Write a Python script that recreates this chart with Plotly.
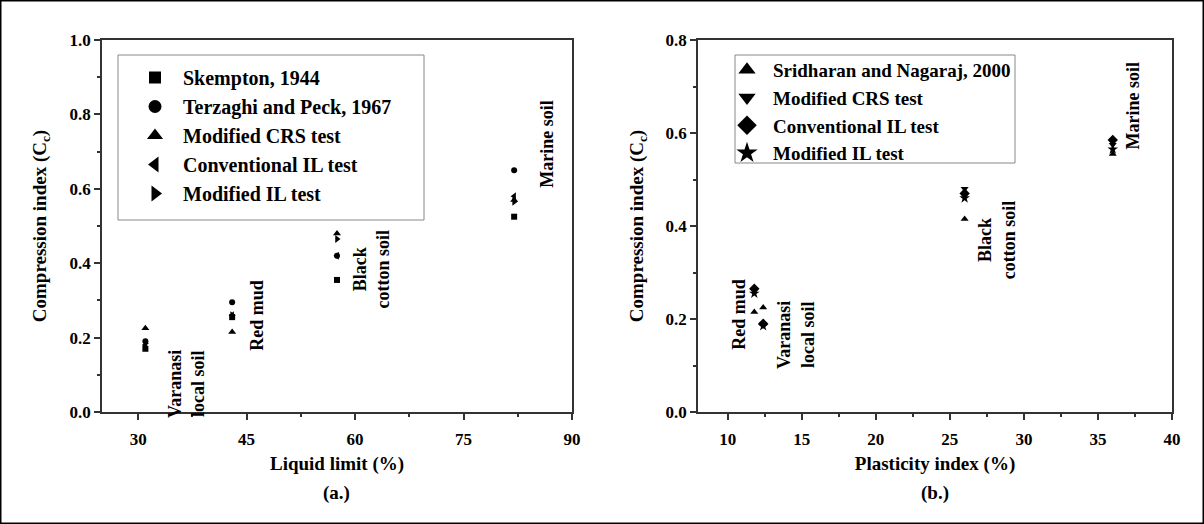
import plotly.graph_objects as go

# ---------------- data (a) ----------------
ll_x = [31, 43, 57.5, 82]                      # liquid limit (%) of the four soils
skempton = [0.17, 0.255, 0.355, 0.525]
terzaghi = [0.19, 0.295, 0.42, 0.65]
mod_crs_a = [0.225, 0.215, 0.48, 0.57]
conv_il_a = [0.18, 0.26, 0.42, 0.58]
mod_il_a = [0.185, 0.26, 0.465, 0.565]

# ---------------- data (b) ----------------
pi_x = [11.8, 12.4, 26.0, 36.0]                 # plasticity index (%): red mud, varanasi, black cotton, marine
sridharan = [0.215, 0.225, 0.415, 0.555]
mod_crs_b = [0.26, 0.19, 0.48, 0.575]
conv_il_b = [0.265, 0.19, 0.47, 0.585]
mod_il_b = [0.255, 0.185, 0.46, 0.565]

FONT = "Liberation Serif"
fig = go.Figure()

def add(xs, ys, name, symbol, xa, ya, legend, msize, lsize):
    fig.add_trace(go.Scatter(x=xs, y=ys, mode="markers", xaxis=xa, yaxis=ya,
                             marker=dict(symbol=symbol, size=msize, color="black"),
                             showlegend=False, name=name))
    fig.add_trace(go.Scatter(x=[None], y=[None], mode="markers", xaxis=xa, yaxis=ya,
                             marker=dict(symbol=symbol, size=lsize, color="black"),
                             name="<b>" + name + "</b>", legend=legend))

add(ll_x, skempton, "Skempton, 1944", "square", "x", "y", "legend", 6, 12)
add(ll_x, terzaghi, "Terzaghi and Peck, 1967", "circle", "x", "y", "legend", 6, 13)
add(ll_x, mod_crs_a, "Modified CRS test", "triangle-up", "x", "y", "legend", 7, 14)
add(ll_x, conv_il_a, "Conventional IL test", "triangle-left", "x", "y", "legend", 7, 14)
add(ll_x, mod_il_a, "Modified IL test", "triangle-right", "x", "y", "legend", 7, 14)

add(pi_x, sridharan, "Sridharan and Nagaraj, 2000", "triangle-up", "x2", "y2", "legend2", 7, 15)
add(pi_x, mod_crs_b, "Modified CRS test", "triangle-down", "x2", "y2", "legend2", 7, 15)
add(pi_x, conv_il_b, "Conventional IL test", "diamond", "x2", "y2", "legend2", 8, 15)
add(pi_x, mod_il_b, "Modified IL test", "star", "x2", "y2", "legend2", 8, 16)

W, H = 1204, 524
def px(x):
    return x / W
def py(y):
    return 1 - y / H

axis_common = dict(showline=True, linecolor="#333", linewidth=1.5, mirror=True,
                   ticks="outside", ticklen=6, tickwidth=1.5, tickcolor="#333",
                   showgrid=False, zeroline=False, automargin=False,
                   tickfont=dict(family=FONT, size=17, color="black"),
                   title_font=dict(family=FONT, size=19, color="black"))

fig.update_layout(
    width=W, height=H, margin=dict(l=0, r=0, t=0, b=0, pad=0, autoexpand=False),
    plot_bgcolor="white", paper_bgcolor="white",
    font=dict(family=FONT, color="black"),
    xaxis=dict(axis_common, domain=[px(102), px(572)], range=[25, 90], dtick=15, tick0=30,
               minor=dict(dtick=7.5, tick0=30, ticks="outside", ticklen=3, tickcolor="#333"),
               title=dict(text="<b>Liquid limit (%)</b>", standoff=9), anchor="y",
               ticklabelstandoff=5, tickprefix="<b>", ticksuffix="</b>"),
    yaxis=dict(axis_common, domain=[py(412), py(40)], range=[0, 1.0], dtick=0.2, tickformat=".1f",
               minor=dict(dtick=0.1, ticks="outside", ticklen=3, tickcolor="#333"),
               title=dict(text="<b>Compression index (C<sub>c</sub>)</b>", standoff=18), anchor="x",
               tickprefix="<b>", ticksuffix="</b>"),
    xaxis2=dict(axis_common, domain=[px(698), px(1172)], range=[8, 40], dtick=5, tick0=10,
                minor=dict(dtick=2.5, tick0=10, ticks="outside", ticklen=3, tickcolor="#333"),
                title=dict(text="<b>Plasticity index (%)</b>", standoff=9), anchor="y2",
                ticklabelstandoff=5, tickprefix="<b>", ticksuffix="</b>"),
    yaxis2=dict(axis_common, domain=[py(412), py(40)], range=[0, 0.8], dtick=0.2, tickformat=".1f",
                minor=dict(dtick=0.1, ticks="outside", ticklen=3, tickcolor="#333"),
                title=dict(text="<b>Compression index (C<sub>c</sub>)</b>", standoff=17), anchor="x2",
                tickprefix="<b>", ticksuffix="</b>"),
    legend=dict(x=px(127), y=py(58), xanchor="left", yanchor="top",
                bgcolor="rgba(0,0,0,0)", borderwidth=0,
                font=dict(family=FONT, size=20, color="black"),
                itemwidth=46, tracegroupgap=0),
    legend2=dict(x=px(721), y=py(51), xanchor="left", yanchor="top",
                 bgcolor="rgba(0,0,0,0)", borderwidth=0,
                 font=dict(family=FONT, size=19, color="black"),
                 itemwidth=42, tracegroupgap=0),
)

# legend frames
fig.add_shape(type="rect", xref="paper", yref="paper", x0=px(118), x1=px(424), y0=py(220), y1=py(55),
              line=dict(color="#888", width=1), fillcolor="white", layer="above")
fig.add_shape(type="rect", xref="paper", yref="paper", x0=px(735), x1=px(1015), y0=py(163), y1=py(55),
              line=dict(color="#888", width=1), fillcolor="white", layer="above")

ann_font = dict(family=FONT, size=18, color="black")
anns = [
    ("x", "y", 36.6, 0.075, "<b>Varanasi<br>local soil</b>"),
    ("x", "y", 46.5, 0.26, "<b>Red mud</b>"),
    ("x", "y", 62.3, 0.385, "<b>Black<br>cotton soil</b>"),
    ("x", "y", 86.5, 0.72, "<b>Marine soil</b>"),
    ("x2", "y2", 10.8, 0.21, "<b>Red mud</b>"),
    ("x2", "y2", 14.6, 0.165, "<b>Varanasi<br>local soil</b>"),
    ("x2", "y2", 28.2, 0.37, "<b>Black<br>cotton soil</b>"),
    ("x2", "y2", 37.4, 0.66, "<b>Marine soil</b>"),
]
for xr, yr, x, y, t in anns:
    fig.add_annotation(xref=xr, yref=yr, x=x, y=y, text=t, textangle=-90,
                       showarrow=False, font=ann_font)

for xpix, lab in [(337, "<b>(a.)</b>"), (935, "<b>(b.)</b>")]:
    fig.add_annotation(xref="paper", yref="paper", x=px(xpix), y=py(493), text=lab,
                       xanchor="center", yanchor="middle",
                       showarrow=False, font=dict(family=FONT, size=19, color="black"))

fig.add_shape(type="rect", xref="paper", yref="paper", x0=0, y0=0, x1=1, y1=1,
              line=dict(color="black", width=3))

fig.write_html("out.html", config={"displayModeBar": False},
               post_script=("document.body.style.margin='0';document.body.style.padding='0';"
                            "document.documentElement.style.overflow='hidden';"
                            "var d=document.getElementById('{plot_id}');"
                            "d.style.position='absolute';d.style.left='0px';d.style.top='0px';"))
